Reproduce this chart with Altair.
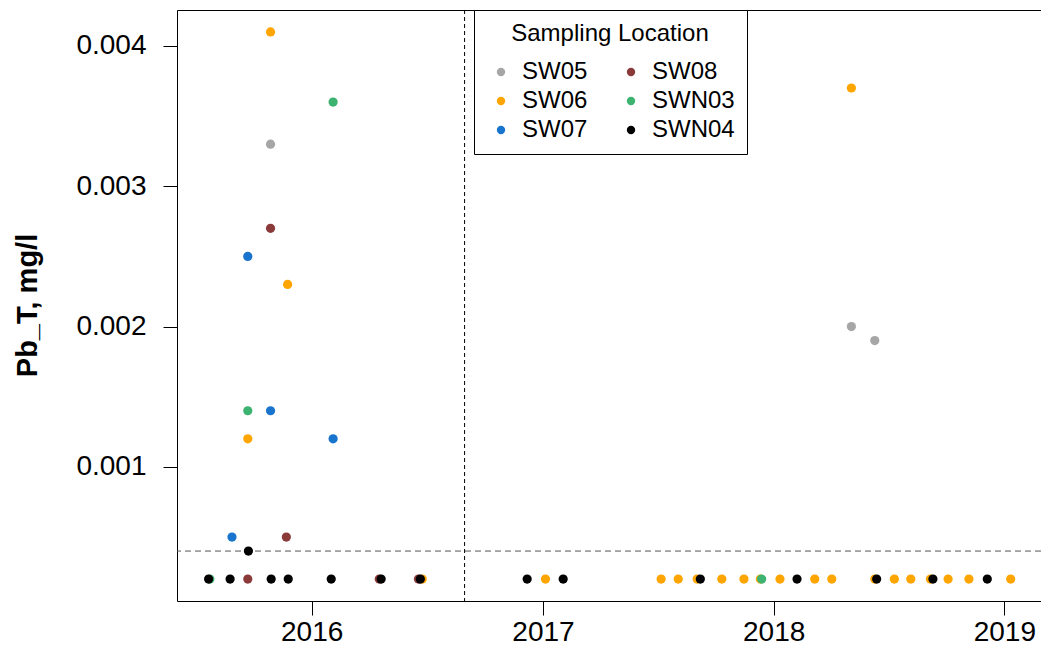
import altair as alt
import pandas as pd

# ---- data ----
sw05_dates = ["2015-10-28", "2018-05-04", "2018-06-10"]
sw05_vals = [0.0033, 0.0020, 0.0019]

sw06_dates = ["2015-09-22", "2015-10-28", "2015-11-24", "2016-06-24", "2017-01-05",
              "2017-07-07", "2017-08-03", "2017-09-02", "2017-10-11", "2017-11-15",
              "2017-12-11", "2018-01-11", "2018-03-07", "2018-04-03", "2018-05-04",
              "2018-06-10", "2018-07-11", "2018-08-06", "2018-09-06", "2018-10-04",
              "2018-11-06", "2019-01-11"]
sw06_vals = [0.0012, 0.0041, 0.0023, 0.0002, 0.0002,
             0.0002, 0.0002, 0.0002, 0.0002, 0.0002,
             0.0002, 0.0002, 0.0002, 0.0002, 0.0037,
             0.0002, 0.0002, 0.0002, 0.0002, 0.0002,
             0.0002, 0.0002]

sw07_dates = ["2015-08-28", "2015-09-22", "2015-10-28", "2016-02-04"]
sw07_vals = [0.0005, 0.0025, 0.0014, 0.0012]

sw08_dates = ["2015-09-22", "2015-10-28", "2015-11-22", "2016-04-17", "2016-06-18"]
sw08_vals = [0.0002, 0.0027, 0.0005, 0.0002, 0.0002]

swn03_dates = ["2015-07-24", "2015-09-22", "2016-02-04", "2017-12-13"]
swn03_vals = [0.0002, 0.0014, 0.0036, 0.0002]

swn04_dates = ["2015-07-22", "2015-08-25", "2015-09-23", "2015-10-29", "2015-11-25",
               "2016-02-01", "2016-04-20", "2016-06-21", "2016-12-07", "2017-02-02",
               "2017-09-07", "2018-02-07", "2018-06-13", "2018-09-10", "2018-12-05"]
swn04_vals = [0.0002, 0.0002, 0.0004, 0.0002, 0.0002,
              0.0002, 0.0002, 0.0002, 0.0002, 0.0002,
              0.0002, 0.0002, 0.0002, 0.0002, 0.0002]

series = [("SW05", sw05_dates, sw05_vals), ("SW06", sw06_dates, sw06_vals),
          ("SW07", sw07_dates, sw07_vals), ("SW08", sw08_dates, sw08_vals),
          ("SWN03", swn03_dates, swn03_vals), ("SWN04", swn04_dates, swn04_vals)]

site_names = ["SW05", "SW06", "SW07", "SW08", "SWN03", "SWN04"]
site_colors = ["#A6A6A6", "#FFA500", "#1874CD", "#8B3A3A", "#3CB371", "#000000"]

year_ticks = [2016, 2017, 2018, 2019]
y_ticks = [0.001, 0.002, 0.003, 0.004]
detection_limit = [0.0004]
divider_date = ["2016-08-30"]

rows = []
k = 0
for name, dates, vals in series:
    for d, v in zip(dates, vals):
        rows.append({"date": d, "value": v, "site": name, "draw": k})
        k += 1
df = pd.DataFrame(rows)

FONT = "Liberation Sans"

x_scale = alt.Scale(type="utc",
                    domain=[alt.DateTime(year=2015, month=6, date=2, utc=True),
                            alt.DateTime(year=2019, month=2, date=28, utc=True)],
                    nice=False)
y_scale = alt.Scale(domain=[0.000044, 0.004256], nice=False, zero=False)

x_axis = alt.Axis(values=[alt.DateTime(year=y, month=1, date=1, utc=True) for y in year_ticks],
                  format="%Y", title=None, labelPadding=3, labelAngle=0)
y_axis = alt.Axis(values=y_ticks, format=".3f", title="Pb_T, mg/l",
                  titleFontWeight="bold", titleFontSize=29, titleFont=FONT,
                  titleColor="black", titleX=-141, titleY=295, titleAngle=-90,
                  titleBaseline="alphabetic", labelPadding=17)

points = alt.Chart(df).mark_circle(size=85, opacity=1).encode(
    x=alt.X("date:T", scale=x_scale, axis=x_axis),
    y=alt.Y("value:Q", scale=y_scale, axis=y_axis),
    color=alt.Color("site:N",
                    scale=alt.Scale(domain=site_names, range=site_colors),
                    legend=alt.Legend(title="Sampling Location", orient="none",
                                      legendX=297, legendY=0, columns=2,
                                      padding=12, strokeColor="black", fillColor="white",
                                      titleFontSize=24, titleFontWeight="normal",
                                      titleFont=FONT, titleColor="black",
                                      titleAnchor="middle", titlePadding=14,
                                      titleLimit=400, labelLimit=200,
                                      labelFontSize=24, labelFont=FONT, labelColor="black",
                                      symbolSize=70, symbolType="circle",
                                      symbolStrokeWidth=0,
                                      labelOffset=9, symbolOffset=3,
                                      columnPadding=28, rowPadding=5)),
    order=alt.Order("draw:Q"),
)

hline = alt.Chart(pd.DataFrame({"value": detection_limit})).mark_rule(
    color="#555555", strokeDash=[6, 4], strokeWidth=1
).encode(y=alt.Y("value:Q", scale=y_scale, axis=y_axis))

vline = alt.Chart(pd.DataFrame({"date": divider_date})).mark_rule(
    color="#000000", strokeDash=[4, 3], strokeWidth=1
).encode(x=alt.X("date:T", scale=x_scale, axis=x_axis))

chart = alt.layer(hline, vline, points).properties(
    width=864, height=591,
    padding={"left": 169, "top": 2, "right": 0, "bottom": 55},
    autosize=alt.AutoSizeParams(type="none"),
).configure_view(
    stroke="black", strokeWidth=1
).configure_axis(
    grid=False, domain=False, ticks=True, tickColor="black", tickSize=14,
    labelFont=FONT, labelFontSize=28, labelColor="black",
)

chart.save("out.html", embed_options={"renderer": "svg", "actions": False})
